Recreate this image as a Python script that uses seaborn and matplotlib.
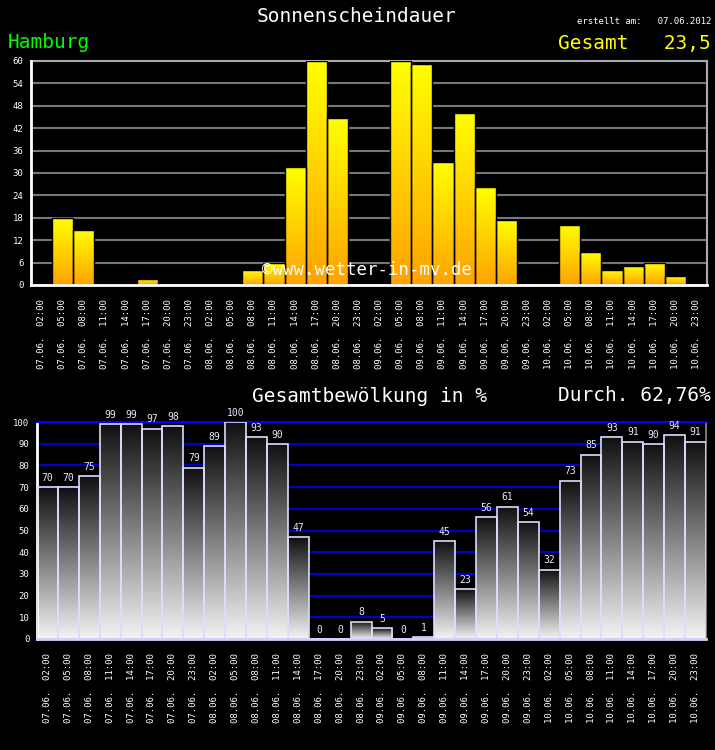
import numpy as np
import pandas as pd
import matplotlib
matplotlib.use("Agg")
import matplotlib.pyplot as plt
from matplotlib.colors import LinearSegmentedColormap
import seaborn as sns

# Daten
tage = ['07.06.', '08.06.', '09.06.', '10.06.']
stunden = ['02:00', '05:00', '08:00', '11:00', '14:00', '17:00', '20:00', '23:00']
sonne = [0, 18, 14.7, 0.4, 0.4, 1.7, 0.6, 0,
         0, 0, 4, 6, 31.6, 60, 44.7, 0,
         0, 60, 59.2, 32.9, 46.1, 26.2, 17.4, 0,
         0, 16.1, 8.8, 4, 5.1, 5.9, 2.4, 0]
wolken = [70, 70, 75, 99, 99, 97, 98, 79,
          89, 100, 93, 90, 47, 0, 0, 8,
          5, 0, 1, 45, 23, 56, 61, 54,
          32, 73, 85, 93, 91, 90, 94, 91]

labels = [f"{t}  {s}" for t in tage for s in stunden]
df = pd.DataFrame({'zeit': labels, 'sonne': sonne, 'wolken': wolken})

sns.set_theme(style="dark", rc={
    'figure.facecolor': 'black', 'axes.facecolor': 'black',
    'text.color': 'white', 'xtick.color': 'white', 'ytick.color': 'white',
})
plt.rcParams['font.family'] = ['DejaVu Sans Mono', 'DejaVu Sans']


def gradient_bars(ax, cmap):
    # each bar gets its own vertical gradient, clipped to the bar shape
    grad = np.linspace(0, 1, 256).reshape(-1, 1)
    for p in ax.patches:
        h = p.get_height()
        if h <= 0:
            continue
        x0 = p.get_x()
        w = p.get_width()
        im = ax.imshow(grad, extent=[x0, x0 + w, 0, h], origin='lower',
                       aspect='auto', cmap=cmap, zorder=2.5)
        im.set_clip_path(p)
        p.set_facecolor('none')
        p.set_zorder(3)


def style_x(ax, n):
    ax.set_xlim(-0.5, n - 0.5)
    ax.set_xticks(range(n))
    ax.set_xticklabels(labels, rotation=90, fontsize=6.5, color='white')
    ax.set_xticks(np.arange(n + 1) - 0.5, minor=True)
    ax.tick_params(axis='x', which='major', length=0, pad=10)
    ax.tick_params(axis='x', which='minor', direction='inout', length=7,
                   width=1.5, color='white')
    ax.set_xlabel('')
    ax.set_ylabel('')


fig = plt.figure(figsize=(7.15, 7.5), dpi=100)

# --- Sonnenscheindauer ---
ax1 = fig.add_axes([31 / 715, 1 - 285 / 750, 676 / 715, 224 / 750])
sns.barplot(data=df, x='zeit', y='sonne', ax=ax1, width=1, color='#ffc000',
            edgecolor='black', linewidth=1, errorbar=None)
sun_cmap = LinearSegmentedColormap.from_list('sun', ['#ffa200', '#ffff00'])
gradient_bars(ax1, sun_cmap)
ax1.set_ylim(0, 60)
ax1.set_yticks(range(0, 61, 6))
ax1.tick_params(axis='y', labelsize=6.5, direction='inout', length=7,
                width=1.5, color='white', pad=2)
ax1.set_axisbelow(True)
ax1.grid(axis='y', color='#777777', linewidth=1.5)
ax1.grid(axis='x', visible=False)
style_x(ax1, len(labels))
for s in ['left', 'bottom']:
    ax1.spines[s].set_color('white')
    ax1.spines[s].set_linewidth(2)
    ax1.spines[s].set_zorder(4)
for s in ['top', 'right']:
    ax1.spines[s].set_color('#aaaaaa')
    ax1.spines[s].set_linewidth(1.5)

# --- Gesamtbewölkung ---
ax2 = fig.add_axes([37 / 715, 1 - 639 / 750, 669 / 715, 217 / 750])
sns.barplot(data=df, x='zeit', y='wolken', ax=ax2, width=1, color='#888888',
            edgecolor='#dcdcff', linewidth=1.2, errorbar=None)
cloud_cmap = LinearSegmentedColormap.from_list('cloud', ['#f4f4f4', '#101010'])
gradient_bars(ax2, cloud_cmap)
ax2.bar_label(ax2.containers[0], labels=[str(v) for v in wolken],
              fontsize=7, color='#e8e8ff', padding=3)
ax2.set_ylim(0, 100)
ax2.set_yticks(range(0, 101, 10))
ax2.tick_params(axis='y', labelsize=6.5, direction='inout', length=7,
                width=1.5, color='white', pad=2)
ax2.set_axisbelow(True)
ax2.grid(axis='y', color='#0000cc', linewidth=1.5)
ax2.grid(axis='x', visible=False)
style_x(ax2, len(labels))
ax2.spines['left'].set_color('white')
ax2.spines['left'].set_linewidth(2)
ax2.spines['bottom'].set_color('#d0d0ff')
ax2.spines['bottom'].set_linewidth(2)
ax2.spines['bottom'].set_zorder(4)
ax2.spines['top'].set_color('#0000ff')
ax2.spines['top'].set_linewidth(1.5)
ax2.spines['right'].set_color('#888888')

# --- Texte ---
fig.text(357 / 715, 1 - 16 / 750, 'Sonnenscheindauer', ha='center', va='center',
         fontsize=14, color='white')
fig.text(711 / 715, 1 - 21 / 750, 'erstellt am:   07.06.2012', ha='right',
         va='center', fontsize=6.5, color='white')
fig.text(8 / 715, 1 - 43 / 750, 'Hamburg', ha='left', va='center',
         fontsize=14, color='#00ff00')
fig.text(711 / 715, 1 - 43 / 750, 'Gesamt   23,5', ha='right', va='center',
         fontsize=14, color='#ffff00')
fig.text(367 / 715, 1 - 270 / 750, '©www.wetter-in-mv.de', ha='center',
         va='center', fontsize=12.5, color='white', zorder=10)
fig.text(252 / 715, 1 - 396 / 750, 'Gesamtbewölkung in %', ha='left',
         va='center', fontsize=14, color='white')
fig.text(711 / 715, 1 - 396 / 750, 'Durch. 62,76%', ha='right', va='center',
         fontsize=14, color='white')

fig.savefig('out.png', dpi=100, facecolor='black')
